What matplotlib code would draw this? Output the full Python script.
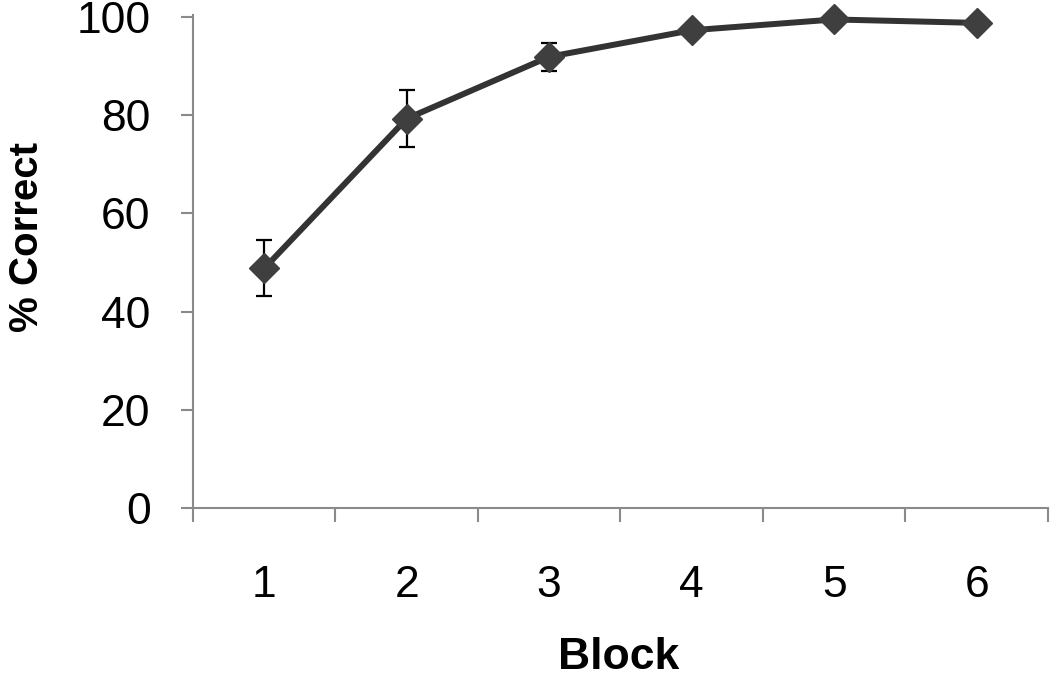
import numpy as np
import matplotlib
matplotlib.use("Agg")
from matplotlib import pyplot as plt

# data
blocks = [1, 2, 3, 4, 5, 6]
pct_correct = [48.8, 79.3, 91.9, 97.3, 99.5, 98.8]
sem = [5.7, 5.8, 2.9, 0.8, 0.5, 0.5]
yticks = [0, 20, 40, 60, 80, 100]

plt.rcParams['font.family'] = ['Liberation Sans', 'DejaVu Sans']

fig = plt.figure(figsize=(10.5, 6.83), dpi=100)
ax = fig.add_axes([0.1838, 0.2562, 0.998 - 0.1838, 0.9751 - 0.2562])

ax.errorbar(blocks, pct_correct, yerr=sem, fmt='none', ecolor='black',
            elinewidth=1.6, capsize=6, capthick=1.6, zorder=2, clip_on=False)
ax.plot(blocks, pct_correct, color='#333333', lw=4.3, marker='D',
        markersize=15, markerfacecolor='#3f3f3f', markeredgecolor='#3f3f3f',
        zorder=3, clip_on=False)

ax.set_xlim(0.5, 6.5)
ax.set_ylim(0, 100)

for side in ['top', 'right']:
    ax.spines[side].set_visible(False)
for side in ['left', 'bottom']:
    ax.spines[side].set_color('#8a8a8a')
    ax.spines[side].set_linewidth(1.5)
ax.spines['left'].set_bounds(0, 100.5)

ax.set_yticks(yticks)
ax.set_xticks(blocks)
ax.set_xticklabels([str(b) for b in blocks])
ax.set_xticks(np.arange(0.5, 7.0, 1.0), minor=True)
ax.tick_params(axis='y', which='major', direction='out', length=8.5, width=1.5,
               color='#8a8a8a', labelsize=32, pad=22)
ax.tick_params(axis='x', which='major', length=0, labelsize=32, pad=41)
ax.tick_params(axis='x', which='minor', direction='out', length=10, width=1.5,
               color='#8a8a8a')

ax.set_xlabel('Block', fontsize=32, fontweight='bold')
ax.xaxis.set_label_coords(0.4977, -0.262)
ax.set_ylabel('% Correct', fontsize=29, fontweight='bold')
ax.yaxis.set_label_coords(-0.172, 0.552)

fig.savefig('out.png', dpi=100)
